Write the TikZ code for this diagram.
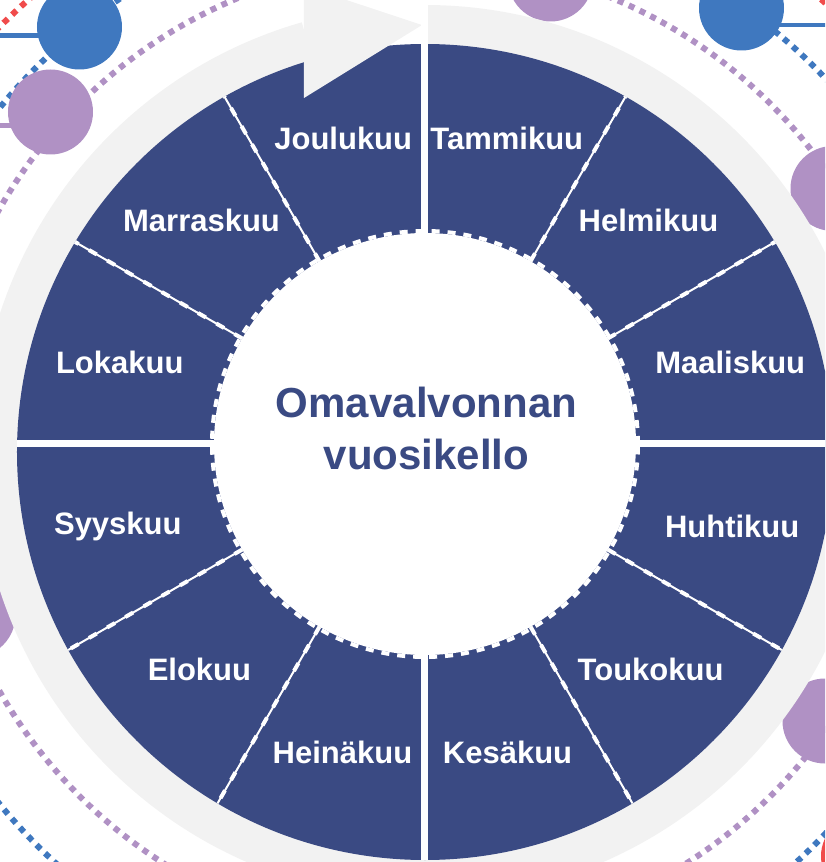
\documentclass[tikz,border=0pt]{standalone}
\usepackage{fontspec}
\setmainfont{Liberation Sans}
\usetikzlibrary{positioning}

\definecolor{wheelblue}{HTML}{3A4A83}
\definecolor{ringgray}{HTML}{F2F2F2}
\definecolor{dotblue}{HTML}{3F78BF}
\definecolor{dotpurple}{HTML}{B091C4}
\definecolor{dotred}{HTML}{F04B4B}

\begin{document}
\begin{tikzpicture}[
					x=1pt, y=1pt,
					month/.style={font=\fontsize{31}{37}\selectfont\bfseries, text=white, inner sep=0pt},
					centertext/.style={font=\fontsize{42}{52}\selectfont\bfseries, text=wheelblue, align=center, inner sep=0pt},
					bigdot/.style={circle, minimum size=85pt, inner sep=0pt},
					orbit/.style={line width=6pt, dash pattern=on 6pt off 6pt},
					solidsep/.style={white, line width=7pt},
					thinsep/.style={white, line width=2pt},
					dashsep/.style={white, line width=4pt, dash pattern=on 9pt off 12pt}
					]
					\useasboundingbox (-425,-418) rectangle (400,444);
					\clip (-425,-418) rectangle (400,444);
					
					% ===== ORBITS (dotted) =====
					\draw[orbit, dotred]    (0,-6)   circle[radius=600];
					\draw[orbit, dotblue]   (0.5,-12) circle[radius=550];
					\draw[orbit, dotpurple] (0,-6)   circle[radius=489];
					
					% ===== DOTS =====
					\node[bigdot, fill=dotblue]   (b1) at (-345.5,417) {};
					\node[bigdot, fill=dotblue]   (b2) at (316.5,436) {};
					\node[bigdot, fill=dotpurple] (p1) at (125.5,465) {};
					\node[bigdot, fill=dotpurple] (p2) at (-374.5,332) {};
					\node[bigdot, fill=dotpurple] (p3) at (408,255.5) {};
					\node[bigdot, fill=dotpurple] (p4) at (-452,-171) {};
					\node[bigdot, fill=dotpurple] (p5) at (400,-277) {};
					\node[circle, minimum size=80pt, fill=dotred] (r1) at (436,-412) {};
					
					\coordinate (bl1) at (-430,408);
					\coordinate (bl2) at (405,419);
					\coordinate (pl1) at (-430,318.5);
					\draw[dotblue, line width=5pt] (bl1) -- (bl1 -| b1.center);
					\draw[dotblue, line width=4pt] (b2.center |- bl2) -- (bl2);
					\draw[dotpurple, line width=5pt] (pl1) -- (pl1 -| p2.center);
					
					% ===== RING + WHEEL =====
					\begin{scope}[shift={(0,-8)}]
						\fill[ringgray] (90:447) arc[start angle=90, end angle=-254, radius=447]
						-- (-254:405) arc[start angle=-254, end angle=90, radius=405] -- cycle;
						\fill[wheelblue] (0,0) circle[radius=408];
					\end{scope}
					\fill[ringgray] (-121,458) -- (-3,419) -- (-121,346) -- cycle;
					
					% ===== SEPARATORS =====
					\draw[solidsep] (90:211) -- (90:450);
					\begin{scope}
						\clip (0,-8) circle[radius=408];
						\draw[solidsep] (0:211) -- (0:430);
						\draw[solidsep] (180:211) -- (180:430);
						\draw[solidsep] (270:211) -- (270:430);
						
						\draw[thinsep] (60:211) -- (60:430);
						\draw[dashsep] (60:211) -- (60:430);
						\draw[thinsep] (30:211) -- (30:430);
						\draw[dashsep] (30:211) -- (30:430);
						\draw[thinsep] (-30:211) -- (-30:430);
						\draw[dashsep] (-30:211) -- (-30:430);
						\draw[thinsep] (-60:211) -- (-60:430);
						\draw[dashsep] (-60:211) -- (-60:430);
						\draw[thinsep] (-120:211) -- (-120:430);
						\draw[dashsep] (-120:211) -- (-120:430);
						\draw[thinsep] (-150:211) -- (-150:430);
						\draw[dashsep] (-150:211) -- (-150:430);
						\draw[thinsep] (150:211) -- (150:430);
						\draw[dashsep] (150:211) -- (150:430);
						\draw[thinsep] (120:211) -- (120:430);
						\draw[dashsep] (120:211) -- (120:430);
					\end{scope}
					
					% ===== CENTRE =====
					\fill[white] (0,0) circle[radius=211];
					\draw[white, line width=4pt, dash pattern=on 8pt off 8pt] (0,0) circle[radius=213];
					\node[centertext] (title) at (1.5,16) {Omavalvonnan\\vuosikello};
					
					% ===== MONTHS =====
					\node[month] (tam) at (75:316)   {Tammikuu};
					\node[month] (hel) at (45:316)   {Helmikuu};
					\node[month] (maa) at (15:316)   {Maaliskuu};
					\node[month] (huh) at (-15:318)  {Huhtikuu};
					\node[month] (tou) at (-45:319)  {Toukokuu};
					\node[month] (kes) at (-75:319)  {Kesäkuu};
					\node[month] (hei) at (-105:319) {Heinäkuu};
					\node[month] (elo) at (-135:319) {Elokuu};
					\node[month] (syy) at (-165:318) {Syyskuu};
					\node[month] (lok) at (165:316)  {Lokakuu};
					\node[month] (mar) at (135:316)  {Marraskuu};
					\node[month] (jou) at (105:316)  {Joulukuu};
				\end{tikzpicture}
\end{document}
